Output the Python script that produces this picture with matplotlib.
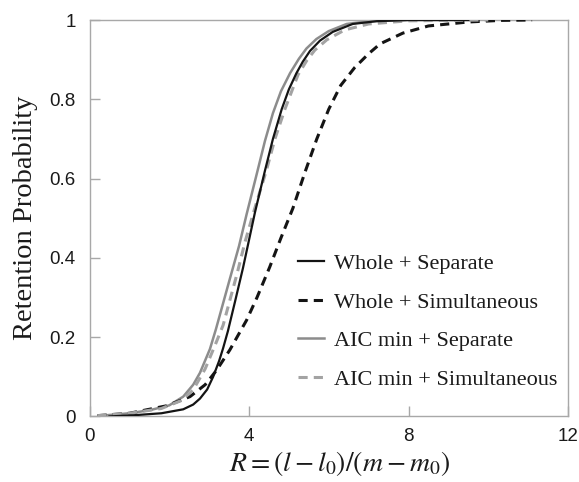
import matplotlib
matplotlib.use("Agg")
import matplotlib.pyplot as plt

# Retention probability curves versus the standardised length R
whole_sep_x = [0.5, 1.1, 1.8, 2.35, 2.6, 2.77, 2.95, 3.1, 3.25, 3.35, 3.47, 3.65, 3.85, 4.0,
               4.15, 4.4, 4.6, 4.82, 5.0, 5.19, 5.35, 5.53, 5.78, 6.1, 6.6, 7.2, 8.0, 9.5]
whole_sep_y = [0.0, 0.003, 0.008, 0.018, 0.03, 0.045, 0.068, 0.1, 0.14, 0.172, 0.215, 0.29, 0.375, 0.445,
               0.515, 0.62, 0.70, 0.775, 0.825, 0.866, 0.895, 0.922, 0.948, 0.97, 0.99, 0.997, 1.0, 1.0]

whole_sim_x = [0.2, 1.0, 1.94, 2.52, 2.9, 3.19, 3.52, 3.94, 4.2, 4.52, 4.8, 5.1, 5.4, 5.7,
               6.0, 6.3, 6.65, 7.0, 7.29, 7.86, 8.5, 9.5, 10.3, 11.1]
whole_sim_y = [0.002, 0.008, 0.027, 0.05, 0.08, 0.117, 0.168, 0.243, 0.30, 0.377, 0.45, 0.525, 0.615, 0.70,
               0.775, 0.835, 0.88, 0.915, 0.94, 0.967, 0.985, 0.995, 0.999, 1.0]

aic_sep_x = [0.3, 1.0, 1.52, 2.0, 2.35, 2.6, 2.77, 3.02, 3.17, 3.5, 3.75, 3.94, 4.19, 4.4,
             4.6, 4.8, 5.03, 5.25, 5.44, 5.69, 6.0, 6.45, 7.0, 8.0, 9.5]
aic_sep_y = [0.002, 0.008, 0.016, 0.028, 0.05, 0.08, 0.11, 0.17, 0.22, 0.34, 0.43, 0.51, 0.61, 0.695,
             0.765, 0.82, 0.866, 0.902, 0.928, 0.952, 0.972, 0.99, 0.997, 1.0, 1.0]

aic_sim_x = [0.2, 1.0, 1.8, 2.3, 2.6, 2.9, 3.15, 3.35, 3.7, 3.9, 4.13, 4.44, 4.65, 4.9,
             5.23, 5.45, 5.65, 5.95, 6.4, 7.0, 8.0, 10.0]
aic_sim_y = [0.002, 0.008, 0.02, 0.04, 0.067, 0.12, 0.18, 0.23, 0.36, 0.44, 0.52, 0.622, 0.70, 0.775,
             0.862, 0.898, 0.924, 0.95, 0.975, 0.99, 0.998, 1.0]

labels = ["Whole + Separate", "Whole + Simultaneous",
          "AIC min + Separate", "AIC min + Simultaneous"]
x_ticks = [0, 4, 8, 12]
y_ticks = [0, 0.2, 0.4, 0.6, 0.8, 1]
y_tick_labels = ["0", "0.2", "0.4", "0.6", "0.8", "1"]

plt.rcParams["mathtext.fontset"] = "stix"

fig = plt.figure(figsize=(5.79, 4.82), dpi=100)
ax = fig.add_axes([0.1546, 0.136, 0.981 - 0.1546, 0.9585 - 0.136])

black = "#141414"
gray = "#8c8c8c"
lgray = "#a3a3a3"

ax.plot(whole_sep_x, whole_sep_y, color=black, lw=1.6, label=labels[0], zorder=4)
ax.plot(whole_sim_x, whole_sim_y, color=black, lw=2.2, dashes=(3, 2), label=labels[1], zorder=3)
ax.plot(aic_sep_x, aic_sep_y, color=gray, lw=1.8, label=labels[2], zorder=2)
ax.plot(aic_sim_x, aic_sim_y, color=lgray, lw=2.2, dashes=(3, 2), label=labels[3], zorder=3)

ax.set_xlim(0, 12)
ax.set_ylim(0, 1)
ax.set_xticks(x_ticks)
ax.set_yticks(y_ticks)
ax.set_yticklabels(y_tick_labels)

for side in ["left", "right", "top", "bottom"]:
    ax.spines[side].set_color("#a8a8a8")
    ax.spines[side].set_linewidth(1.0)
ax.tick_params(direction="in", length=7, width=1.0, color="#a8a8a8",
               labelsize=13.5, labelcolor="#1a1a1a", pad=8)
ax.tick_params(axis="y", pad=10)
for lab in ax.get_xticklabels() + ax.get_yticklabels():
    lab.set_family("Liberation Sans")

ax.set_ylabel("Retention Probability", family="Liberation Serif", fontsize=20.5,
              color="#1a1a1a", labelpad=8)
ax.set_xlabel(r"$R=(l-l_0)/(m-m_0)$", fontsize=20, color="#1a1a1a", labelpad=4)
ax.xaxis.set_label_coords(0.523, -0.082)

leg = ax.legend(loc="lower left", bbox_to_anchor=(0.4176, 0.045), frameon=False,
                prop={"family": "Liberation Serif", "size": 16},
                handlelength=1.15, handletextpad=0.45, labelspacing=0.81,
                borderaxespad=0.0)
for txt in leg.get_texts():
    txt.set_color("#1a1a1a")

fig.savefig("out.png", dpi=100)
